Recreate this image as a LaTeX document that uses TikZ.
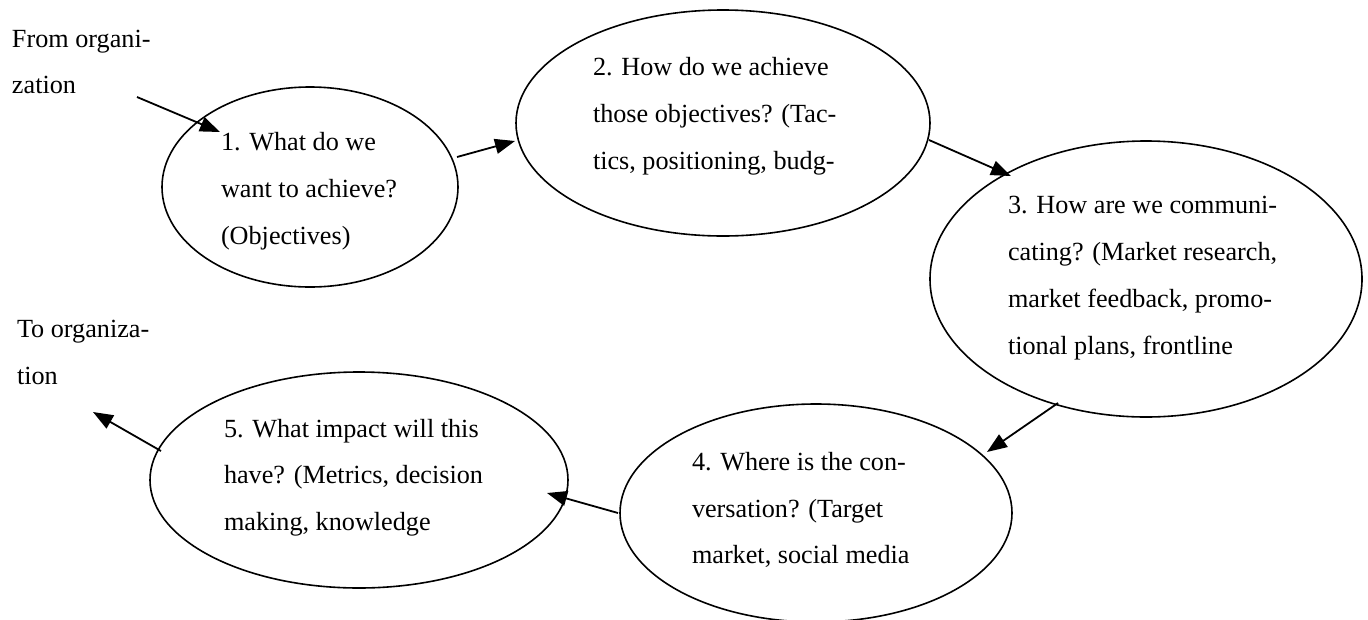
\documentclass[tikz,border=0pt]{standalone}
\usepackage{fontspec}
\setmainfont{Liberation Serif}
\usetikzlibrary{shapes.geometric,arrows.meta}
\begin{document}
\begin{tikzpicture}[x=1pt,y=-1pt,
  bubble/.style={draw, ellipse, line width=1.6pt, inner sep=0pt, outer sep=0pt},
  txt/.style={anchor=base west, inner sep=0pt, outer sep=0pt, font=\fontsize{26.2}{32}\selectfont},
  arr/.style={line width=1.8pt, -{Triangle[length=20pt,width=15pt]}}]
\useasboundingbox (0,0) rectangle (1368,619);
% ellipses
\node[bubble, minimum width=296pt, minimum height=200pt] (e1) at (310,187) {};
\node[bubble, minimum width=414pt, minimum height=226pt] (e2) at (723,123) {};
\node[bubble, minimum width=432pt, minimum height=276pt] (e3) at (1146,279) {};
\node[bubble, minimum width=392pt, minimum height=218pt] (e4) at (816,513) {};
\node[bubble, minimum width=418pt, minimum height=216pt] (e5) at (359,480) {};
% free labels
\node[txt] (from1) at (12,47) {From organi-};
\node[txt] (from2) at (12,93) {zation};
\node[txt] (to1) at (17,337) {To organiza-};
\node[txt] (to2) at (17,384) {tion};
% ellipse texts
\node[txt] (t1a) at (221,150) {1. What do we};
\node[txt] (t1b) at (221,197) {want to achieve?};
\node[txt] (t1c) at (221,244) {(Objectives)};
\node[txt] (t2a) at (593,75) {2. How do we achieve};
\node[txt] (t2b) at (593,122) {those objectives? (Tac-};
\node[txt] (t2c) at (593,169) {tics, positioning, budg-};
\node[txt] (t3a) at (1008,213) {3. How are we communi-};
\node[txt] (t3b) at (1008,260) {cating? (Market research,};
\node[txt] (t3c) at (1008,307) {market feedback, promo-};
\node[txt] (t3d) at (1008,354) {tional plans, frontline};
\node[txt] (t4a) at (692,470) {4. Where is the con-};
\node[txt] (t4b) at (692,517) {versation? (Target};
\node[txt] (t4c) at (692,563) {market, social media};
\node[txt] (t5a) at (224,437) {5. What impact will this};
\node[txt] (t5b) at (224,483) {have? (Metrics, decision};
\node[txt] (t5c) at (224,530) {making, knowledge};
% connector end points
\coordinate (fs) at (137,97);
\coordinate (fe) at (220,132);
\coordinate (a12s) at (457,157);
\coordinate (a12e) at (515,141);
\coordinate (a23s) at (929,140);
\coordinate (a23e) at (1011,176);
\coordinate (a34s) at (1058,403);
\coordinate (a34e) at (987,452);
\coordinate (a45s) at (618,513);
\coordinate (a45e) at (547,493);
\coordinate (ts) at (161,451);
\coordinate (te) at (93,412);
% connectors
\draw[arr] (fs) -- (fe);
\draw[arr] (a12s) -- (a12e);
\draw[arr] (a23s) -- (a23e);
\draw[arr] (a34s) -- (a34e);
\draw[arr] (a45s) -- (a45e);
\draw[arr] (ts) -- (te);
\end{tikzpicture}
\end{document}
